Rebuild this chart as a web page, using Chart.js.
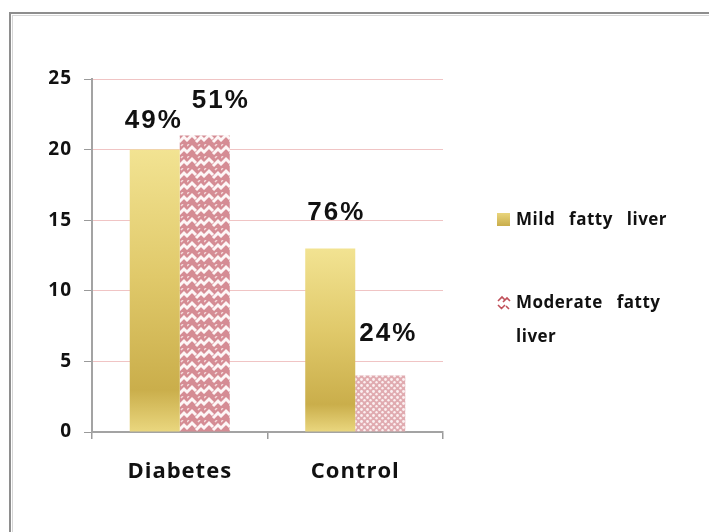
<!DOCTYPE html>
<html>
<head>
<meta charset="utf-8">
<script src="https://cdn.jsdelivr.net/npm/chart.js@4/dist/chart.umd.min.js"></script>
<style>
  html, body { margin: 0; padding: 0; background: #fff; }
  #wrap { width: 709px; height: 532px; }
</style>
</head>
<body>
<div id="wrap"><canvas id="c" width="709" height="532"></canvas></div>
<script>
// Liver findings by group (patient counts)
const categories = ['Diabetes', 'Control'];
const mildValues = [20, 13];
const moderateValues = [21, 4];
const seriesNames = ['Mild fatty liver', 'Moderate fatty liver'];
const yMax = 25;
const yStep = 5;

// Share of each finding within its group, shown above the bars
function groupShare(values, i) {
  const total = mildValues[i] + moderateValues[i];
  return Math.round(values[i] / total * 100) + '%';
}

// ---------- fills ----------
function weaveTile() {
  const w = 17, h = 12;
  const cv = document.createElement('canvas');
  cv.width = w; cv.height = h;
  const g = cv.getContext('2d');
  g.fillStyle = '#d58c94';
  g.fillRect(0, 0, w, h);
  g.strokeStyle = '#fdf6f6';
  g.lineWidth = 3;
  g.lineCap = 'butt';
  g.beginPath();
  g.moveTo(-1, 9); g.lineTo(5, 3); g.lineTo(9, 7);
  g.moveTo(9, 10); g.lineTo(14, 5); g.lineTo(18, 9);
  g.stroke();
  g.lineWidth = 1.5;
  g.strokeStyle = '#f3dadc';
  g.beginPath();
  g.moveTo(0, 2); g.lineTo(2, 0);
  g.moveTo(11, 2); g.lineTo(13, 0);
  g.stroke();
  return g.createPattern(cv, 'repeat');
}

function dotTile() {
  const s = 6;
  const cv = document.createElement('canvas');
  cv.width = s; cv.height = s;
  const g = cv.getContext('2d');
  g.fillStyle = '#e0abb0';
  g.fillRect(0, 0, s, s);
  g.fillStyle = '#fbf0f1';
  g.beginPath(); g.arc(1.5, 1.5, 1.4, 0, Math.PI * 2); g.fill();
  g.beginPath(); g.arc(4.5, 4.2, 1.2, 0, Math.PI * 2); g.fill();
  return g.createPattern(cv, 'repeat');
}

const ctxMain = document.getElementById('c').getContext('2d');
const moderateFills = [weaveTile(), dotTile()];

function goldFill(context) {
  const chart = context.chart;
  const y = chart.scales && chart.scales.y;
  if (!y || context.parsed == null || !chart.chartArea) return '#d8bf5e';
  const top = y.getPixelForValue(context.parsed.y);
  const base = y.getPixelForValue(0);
  const gr = chart.ctx.createLinearGradient(0, top, 0, base);
  gr.addColorStop(0, '#f2e392');
  gr.addColorStop(0.45, '#e0c96a');
  gr.addColorStop(0.85, '#caae4b');
  gr.addColorStop(1, '#ead77f');
  return gr;
}

// ---------- plugins ----------
const framePlugin = {
  id: 'frame',
  beforeDraw(chart) {
    const c = chart.ctx;
    c.save();
    c.fillStyle = '#ffffff';
    c.fillRect(0, 0, chart.width, chart.height);
    c.strokeStyle = '#8e8e8e';
    c.lineWidth = 2;
    c.strokeRect(10, 13, chart.width + 20, chart.height + 20);
    c.strokeStyle = '#d6d6d6';
    c.lineWidth = 1;
    c.strokeRect(12.5, 15.5, chart.width + 20, chart.height + 20);
    c.restore();
    // slightly spaced lettering for the axis text
    c.letterSpacing = '1px';
  },
  afterDraw(chart) {
    chart.ctx.letterSpacing = '0px';
  }
};

const shareLabels = {
  id: 'shareLabels',
  afterDatasetsDraw(chart, args, opts) {
    const c = chart.ctx;
    c.save();
    c.font = 'bold 26px "Liberation Sans", Arial, sans-serif';
    c.letterSpacing = '2px';
    c.fillStyle = '#111';
    c.textAlign = 'center';
    c.textBaseline = 'middle';
    chart.data.datasets.forEach((ds, di) => {
      const meta = chart.getDatasetMeta(di);
      meta.data.forEach((bar, i) => {
        const n = opts.nudge[di][i];
        c.fillText(groupShare(ds.data, i), bar.x + n[0], bar.y - n[1]);
      });
    });
    c.restore();
  }
};

const sideLegend = {
  id: 'sideLegend',
  afterDraw(chart, args, opts) {
    const c = chart.ctx;
    c.save();
    c.font = 'bold 17px "Open Sans", sans-serif';
    c.letterSpacing = '0.5px';
    c.wordSpacing = '9px';
    c.fillStyle = '#111';
    c.textBaseline = 'middle';
    chart.data.datasets.forEach((ds, di) => {
      const y0 = opts.rows[di];
      const x0 = opts.x;
      // marker
      if (di === 0) {
        const gr = c.createLinearGradient(0, y0 - 7, 0, y0 + 6);
        gr.addColorStop(0, '#e9d57c');
        gr.addColorStop(1, '#c9ad4b');
        c.fillStyle = gr;
        c.fillRect(x0, y0 - 7, 13, 13);
      } else {
        c.strokeStyle = '#c0505a';
        c.lineWidth = 1.6;
        c.beginPath();
        c.moveTo(x0 + 1, y0 - 2); c.lineTo(x0 + 5, y0 - 6); c.lineTo(x0 + 8, y0 - 3);
        c.moveTo(x0 + 6, y0 - 1); c.lineTo(x0 + 10, y0 - 5); c.lineTo(x0 + 13, y0 - 2);
        c.moveTo(x0 + 1, y0 + 2); c.lineTo(x0 + 5, y0 + 6);
        c.moveTo(x0 + 8, y0 + 2); c.lineTo(x0 + 4, y0 + 6);
        c.moveTo(x0 + 9, y0 + 3); c.lineTo(x0 + 12, y0 + 6);
        c.stroke();
      }
      // wrapped text
      c.fillStyle = '#111';
      const words = ds.label.split(' ');
      const lines = [];
      let line = '';
      words.forEach(w => {
        const t = line ? line + ' ' + w : w;
        if (c.measureText(t).width > opts.maxWidth && line) { lines.push(line); line = w; }
        else line = t;
      });
      lines.push(line);
      lines.forEach((ln, k) => c.fillText(ln, x0 + 19, y0 + k * opts.lineHeight));
    });
    c.restore();
  }
};

// ---------- chart ----------
new Chart(ctxMain, {
  type: 'bar',
  data: {
    labels: categories,
    datasets: [
      {
        label: seriesNames[0],
        data: mildValues,
        backgroundColor: goldFill,
        borderWidth: 0,
        categoryPercentage: 0.57,
        barPercentage: 1
      },
      {
        label: seriesNames[1],
        data: moderateValues,
        backgroundColor: moderateFills,
        borderWidth: 0,
        categoryPercentage: 0.57,
        barPercentage: 1
      }
    ]
  },
  options: {
    responsive: false,
    devicePixelRatio: 1,
    animation: false,
    layout: { padding: { left: 0, top: 79, right: 266, bottom: 0 } },
    plugins: {
      legend: { display: false },
      tooltip: { enabled: false },
      shareLabels: { nudge: [[[-1, 29], [6, 36]], [[16, 35], [8, 42]]] },
      sideLegend: { x: 497, rows: [220, 303], maxWidth: 172, lineHeight: 34 }
    },
    scales: {
      x: {
        offset: true,
        grid: { drawOnChartArea: false, tickColor: '#9a9a9a', tickLength: 7, lineWidth: 1.5 },
        border: { color: '#a3a3a3', width: 2 },
        ticks: { color: '#111', padding: 20, font: { family: '"Open Sans", sans-serif', weight: 'bold', size: 22 } },
        afterFit(scale) { scale.height = 100; }
      },
      y: {
        min: 0,
        max: yMax,
        ticks: { stepSize: yStep, color: '#111', padding: 12, font: { family: '"Open Sans", sans-serif', weight: 'bold', size: 19 } },
        grid: { color: '#f0c4c4', lineWidth: 1, tickColor: '#9a9a9a', tickLength: 8 },
        border: { color: '#a3a3a3', width: 2 },
        afterFit(scale) { scale.width = 92; }
      }
    }
  },
  plugins: [framePlugin, shareLabels, sideLegend]
});
</script>
</body>
</html>
